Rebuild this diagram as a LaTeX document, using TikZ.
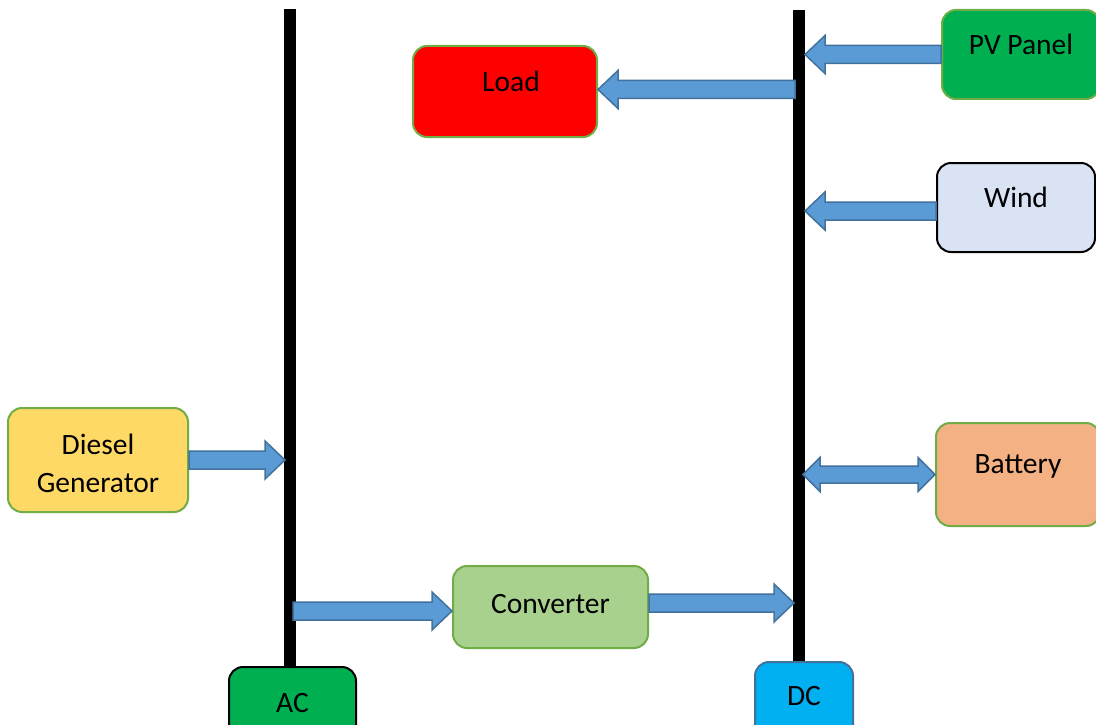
\documentclass[tikz,border=0pt]{standalone}
\usepackage{fontspec}
\setmainfont{Carlito}
\usetikzlibrary{calc}
\definecolor{flowfill}{HTML}{5B9BD5}
\definecolor{flowline}{HTML}{41719C}
\definecolor{boxline}{HTML}{70AD47}
\definecolor{loadred}{HTML}{FF0000}
\definecolor{pvgreen}{HTML}{00B050}
\definecolor{windblue}{HTML}{DAE3F3}
\definecolor{dieselyellow}{HTML}{FFD966}
\definecolor{batteryorange}{HTML}{F4B183}
\definecolor{convgreen}{HTML}{A9D18E}
\definecolor{dcblue}{HTML}{00B0F0}
\begin{document}
\begin{tikzpicture}[x=1pt,y=-1pt,
box/.style={draw=boxline,rectangle,rounded corners=14pt,line width=2pt,inner sep=0pt,align=center,font=\fontsize{29.5}{38}\selectfont},
bus/.style={line width=12pt,black},
flow/.style={draw=flowline,fill=flowfill,line width=1.5pt,to path={
  let \p1=(\tikztostart), \p2=(\tikztotarget), \n1={sign(\x2-\x1)} in
  (\x1,{\y1+9pt}) -- ({\x2-\n1*20pt},{\y1+9pt}) -- ({\x2-\n1*20pt},{\y1+19pt}) -- (\x2,\y1)
  -- ({\x2-\n1*20pt},{\y1-19pt}) -- ({\x2-\n1*20pt},{\y1-9pt}) -- (\x1,{\y1-9pt}) -- cycle}},
dflow/.style={draw=flowline,fill=flowfill,line width=1.5pt,to path={
  let \p1=(\tikztostart), \p2=(\tikztotarget), \n1={sign(\x2-\x1)} in
  (\x1,\y1) -- ({\x1+\n1*17pt},{\y1+17pt}) -- ({\x1+\n1*17pt},{\y1+8.5pt}) -- ({\x2-\n1*17pt},{\y1+8.5pt})
  -- ({\x2-\n1*17pt},{\y1+17pt}) -- (\x2,\y1) -- ({\x2-\n1*17pt},{\y1-17pt}) -- ({\x2-\n1*17pt},{\y1-8.5pt})
  -- ({\x1+\n1*17pt},{\y1-8.5pt}) -- ({\x1+\n1*17pt},{\y1-17pt}) -- cycle}}]
\useasboundingbox (0,0) rectangle (1096,725);
% buses
\coordinate (actop) at (290,9);
\coordinate (dctop) at (799,10);
\node[box,draw=black,fill=pvgreen,minimum width=127,minimum height=80,text height=45,text depth=35] (ac) at (292.5,707) {AC};
\node[box,draw=flowline,fill=dcblue,minimum width=98,minimum height=80,text height=43,text depth=37] (dc) at (804,702) {DC};
\draw[bus] (actop) -- (actop |- ac.north);
\draw[bus] (dctop) -- (dctop |- dc.north);
% sources and load
\node[box,fill=loadred,minimum width=184,minimum height=91,text height=46,text depth=45] (load) at (505,91.5) {\hspace*{12pt}Load};
\node[box,fill=pvgreen,minimum width=158,minimum height=89,text height=45,text depth=44] (pv) at (1021,54.5) {PV Panel};
\node[box,draw=black,fill=windblue,minimum width=158,minimum height=89,text height=44,text depth=45] (wind) at (1016,207.5) {Wind};
\node[box,fill=batteryorange,minimum width=164,minimum height=103,text height=50,text depth=53] (battery) at (1018,474.5) {Battery};
\node[box,fill=convgreen,minimum width=195,minimum height=82,text height=47,text depth=35] (conv) at (550.5,607) {Converter};
\node[box,fill=dieselyellow,minimum width=180,minimum height=104,text height=84,text depth=20] (diesel) at (98,460) {Diesel\\Generator};
% power flows
\draw[flow] (pv.west) to ([xshift=6]pv.west -| dctop);
\draw[flow] ([xshift=-4,yshift=2]load.east -| dctop) to (load.east);
\draw[flow] ([yshift=-3.5]wind.west) to ([xshift=6,yshift=-3.5]wind.west -| dctop);
\draw[dflow] ([xshift=4]battery.west -| dctop) to (battery.west);
\draw[flow] (diesel.east) to ([xshift=-5]diesel.east -| actop);
\draw[flow] ([xshift=3,yshift=-4]conv.west -| actop) to (conv.west);
\draw[flow] ([yshift=4]conv.east) to ([xshift=-5,yshift=4]conv.east -| dctop);
\end{tikzpicture}
\end{document}
